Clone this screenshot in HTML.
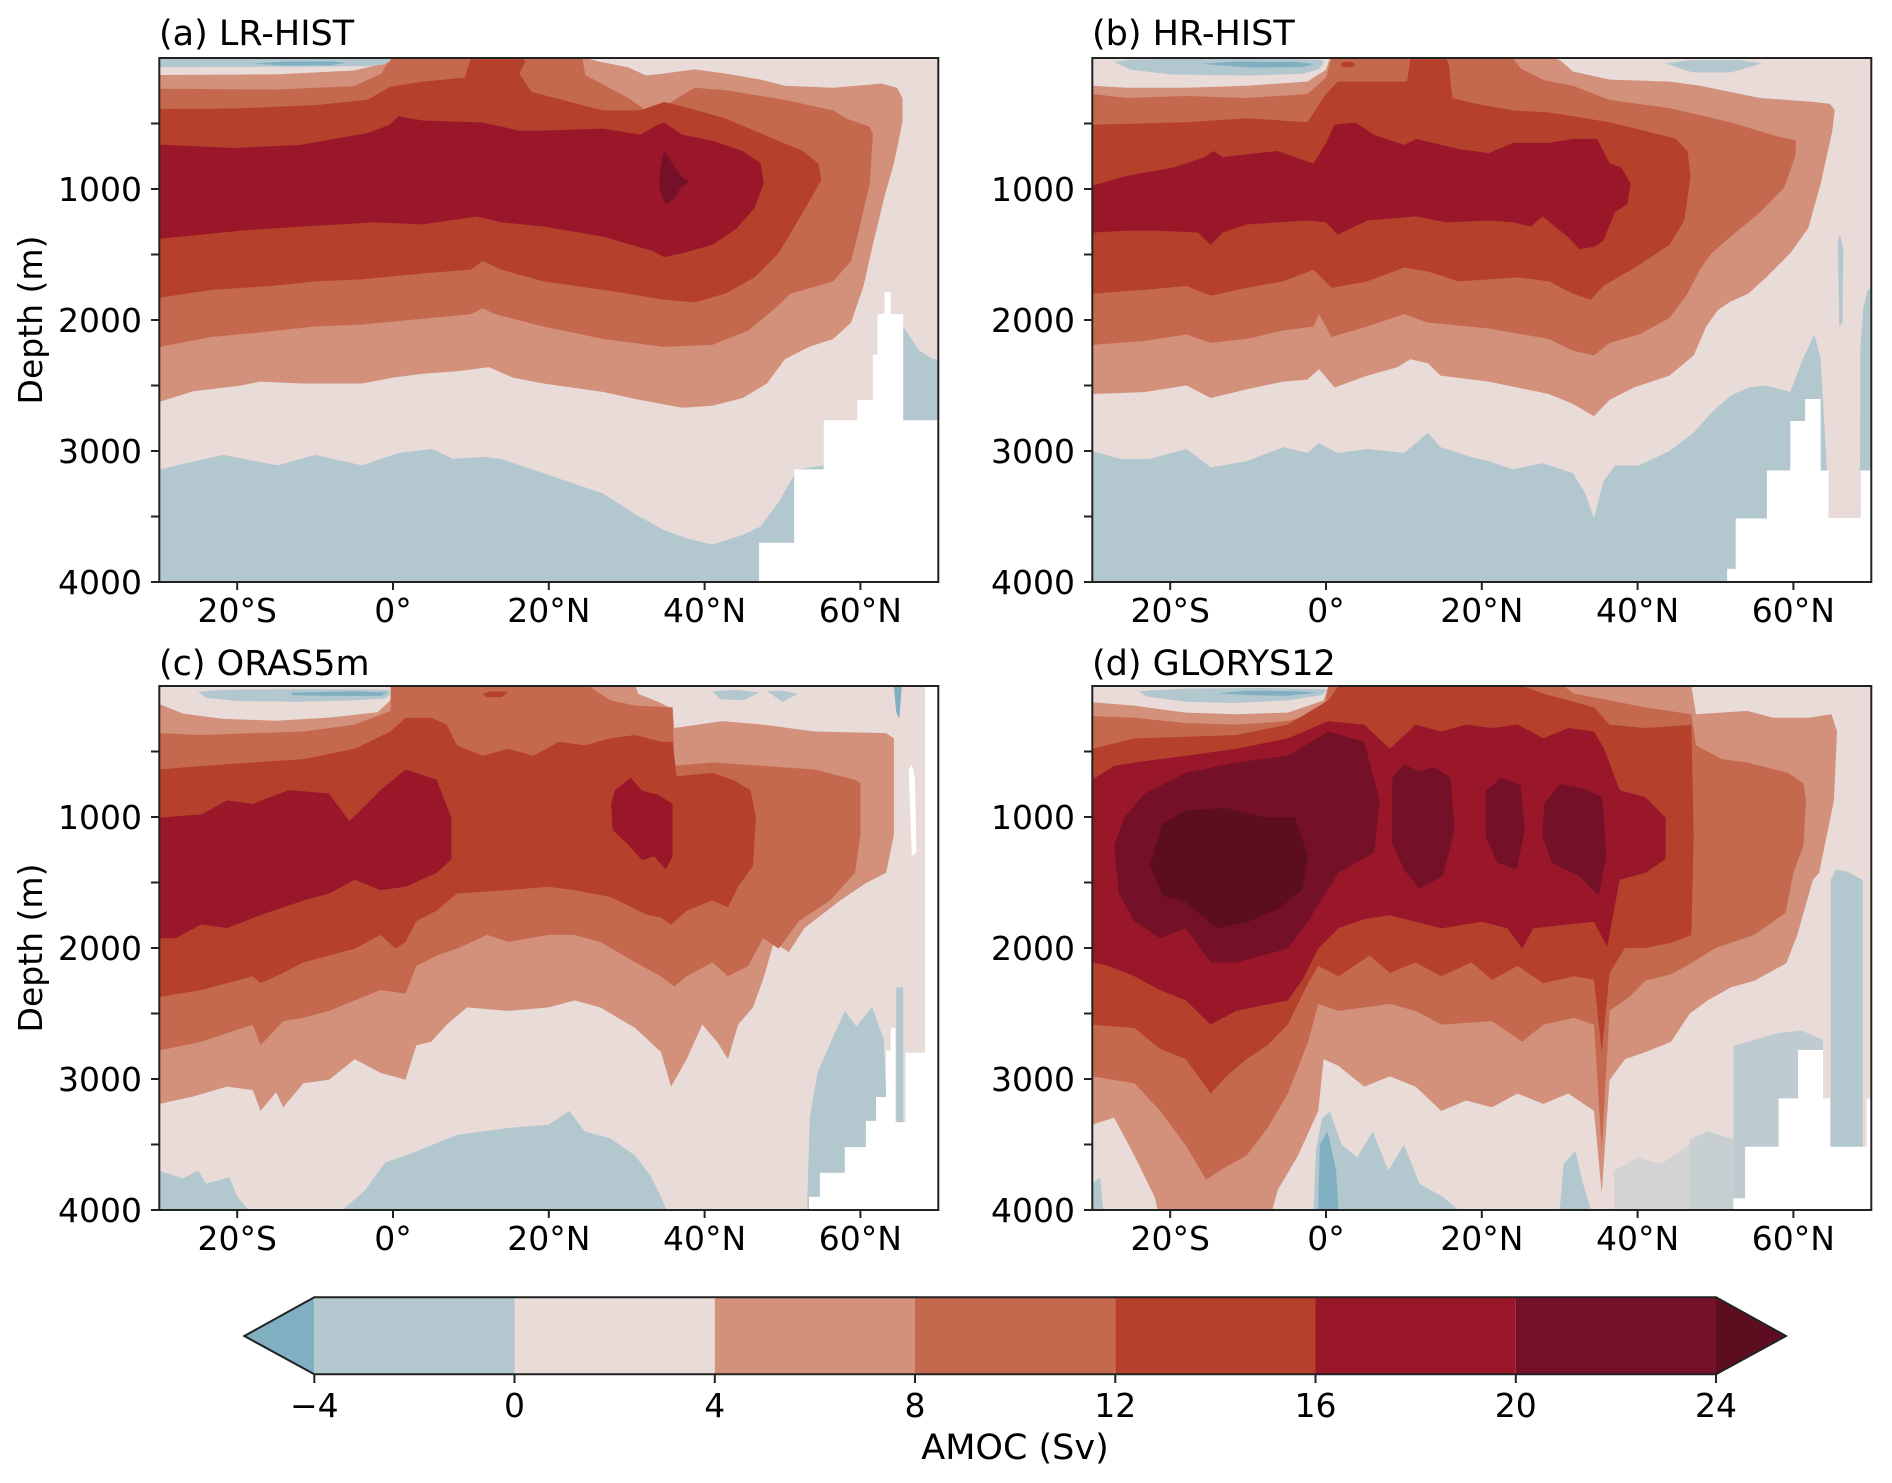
<!DOCTYPE html>
<html><head><meta charset="utf-8"><style>
html,body{margin:0;padding:0;background:#fff;}
svg{display:block;}
text{font-family:"DejaVu Sans","Liberation Sans",sans-serif;fill:#000;}
.tk{font-size:33px;}
.tt{font-size:35px;}
.dl{font-size:33px;}
</style></head><body>
<svg width="1892" height="1483" xmlns="http://www.w3.org/2000/svg">
<defs>
<style>
.b2{fill:#7fafc1}.b1{fill:#b3c7ce}.p0{fill:#e8dbd8}.c4{fill:#d3907a}.c8{fill:#c5694e}.c12{fill:#b5402c}.c16{fill:#9a1729}.c20{fill:#741027}.c24{fill:#5c0e20}.wh{fill:#fff}
</style>
</defs>
<rect x="0" y="0" width="1892" height="1483" fill="#fff"/>

<!-- Panel (a) -->
<svg x="159.3" y="58" width="779" height="524" viewBox="-30 0 100 4000" preserveAspectRatio="none">
<rect x="-30" y="0" width="100" height="4000" class="p0"/>
<polygon class="b1" points="-30,3140 -21.8,3030 -14.8,3110 -10,3030 -4,3110 0.7,3015 5,2985 7.7,3060 11.5,3045 13.9,3060 19.3,3170 27,3325 31,3480 34.8,3605 37.9,3670 41,3715 44.9,3640 47.2,3575 49.5,3390 51,3235 52,3140 55.3,3110 55.3,4000 -30,4000"/>
<polygon class="b1" points="64.5,1960 65.5,2050 67.5,2230 69.3,2300 70,2300 70,4000 64.5,4000"/>
<polygon class="c4" points="-30,130 -15,125 -5,95 -1,40 -0.5,0 24.7,0 26.3,25 30.2,72 32.5,134 34.8,118 38.7,87 42.6,118 47.2,165 50.3,212 56.5,227 62.7,196 64.7,227 65.4,305 65.4,490 64.3,805 63.1,1055 61.6,1425 60.4,1740 58.8,2020 56.5,2145 53.4,2205 50.3,2300 48,2485 44.9,2595 41,2655 37.1,2670 31.7,2610 27,2550 19.3,2485 15.4,2440 12.3,2360 8.4,2390 3.8,2410 0,2440 -4,2485 -11.7,2485 -17.1,2470 -19.5,2500 -25.7,2545 -30,2625"/>
<polygon class="c8" points="-30,235 -15,240 -5,215 -1.5,120 -0.3,0 24.3,0 24.7,134 26.3,180 30.2,305 32.5,400 34.8,368 38.7,227 42.6,245 50.3,320 56.5,400 58.1,460 61.2,525 61.6,585 61.2,960 59.6,1365 58.8,1550 56.5,1705 51,1800 48.8,1925 45.6,2080 41,2190 34.8,2205 27,2145 19.3,2050 13.1,1955 11.5,1910 10,1955 3.8,1990 -4,2035 -10,2050 -17.1,2095 -23.3,2130 -30,2205"/>
<polygon class="c12" points="-30,390 -20,385 -10,360 -3.3,320 -0.4,220 3.8,180 9.2,150 10,0 16.6,0 17,25 16.2,118 17.8,260 24,355 27,400 31.7,400 34.8,336 37.1,368 42.6,460 48.8,615 52.6,710 54.6,805 55,930 52.6,1180 49.5,1490 46.4,1675 42.6,1800 38.7,1865 34.8,1845 27,1770 19.3,1705 13.9,1615 11.5,1550 10,1615 3.8,1645 -4,1690 -10,1705 -15.6,1740 -23.3,1770 -30,1830"/>
<polygon class="c16" points="-30,660 -20.5,687 -12,664 -3.3,573 -0.4,510 0.7,445 3.8,477 11.5,492 16.2,554 19.3,554 27,539 31.7,585 33.6,523 34.8,492 37.1,585 41,632 44.9,710 47.2,804 47.6,959 46.4,1146 44.1,1302 41,1427 37.1,1490 34.8,1520 33.3,1473 27,1364 19.3,1286 13.9,1255 10.8,1210 3.8,1270 -2.4,1255 -11.7,1286 -19.5,1318 -30,1380"/>
<polygon class="c20" points="34.8,710 35.8,800 37,900 38,945 37,985 36,1080 35,1120 34.2,1000 34.2,880"/>
<polygon class="b1" points="-30,0 -0.2,0 -0.4,25 -1.2,50 -3,62 -10,66 -20,68 -30,70"/>
<polygon class="b2" points="-18,42 -14,28 -8,26 -6,35 -8,55 -14,58"/>
<polygon class="wh" points="47,4000 47,3700 51.5,3700 51.5,3140 55.3,3140 55.3,2765 59.6,2765 59.6,2610 61.6,2610 61.6,2265 62.2,2265 62.2,1955 63.1,1955 63.1,1785 63.9,1785 63.9,1955 65.5,1955 65.5,2765 70,2765 70,4000"/>
</svg>

<!-- Panel (b) -->
<svg x="1092.3" y="58" width="779" height="524" viewBox="-30 0 100 4000" preserveAspectRatio="none">
<rect x="-30" y="0" width="100" height="4000" class="p0"/>
<polygon class="b1" points="-30,3000 -26.4,3060 -22.6,3060 -17.9,2985 -14.8,3125 -10.2,3078 -5.5,2970 -2.4,3015 -0.9,2940 1.5,3015 5.3,2985 10,3015 13.1,2860 14.7,2970 18.5,3045 20.9,3078 24,3140 27.8,3093 31.7,3170 33.3,3325 34.4,3515 35.6,3235 37.1,3110 40.2,3110 44.1,3000 47.2,2860 49.5,2705 51.9,2580 54.2,2515 56.5,2500 59.6,2550 61.2,2300 62.7,2110 63.5,2300 64.3,3140 64.7,4000 -30,4000"/>
<polygon class="b1" points="68.6,2200 69,1900 69.5,1780 70,1750 70,4000 68.5,4000"/>
<polygon class="b1" points="65.7,1395 66,1350 66.4,1450 66.3,2020 65.9,2050"/>
<polygon class="c4" points="-30,212 -25.6,227 -17.9,227 -10.2,212 -2.4,180 0,90 0.5,0 29.4,0 30.2,25 31.7,103 36.4,165 44.1,180 48,212 55.7,305 62.7,336 64.7,350 65.3,400 65,555 63.5,960 61.9,1300 59.6,1490 56.5,1675 54.2,1800 51.9,1860 50.3,1925 48.8,2050 47.2,2270 44.1,2425 39.5,2515 36.4,2610 34.4,2735 31.7,2640 28.6,2565 20.9,2470 14.7,2425 13.1,2330 10.8,2300 9.2,2360 5.3,2425 1.1,2515 -0.9,2375 -2.4,2455 -5.5,2470 -10.2,2530 -14.8,2595 -17.9,2500 -23.3,2550 -30,2565"/>
<polygon class="c8" points="-30,275 -25.6,305 -17.9,290 -10.2,305 -2.4,275 0,150 0.7,0 24,0 25,80 28,170 31.7,212 36.4,320 44.1,383 51.9,490 58,600 60.3,630 60.3,740 58.8,990 55.7,1180 52.6,1330 49.5,1490 48,1615 46.4,1800 44.1,1985 40.2,2110 36.4,2175 34.4,2270 31.7,2235 28.6,2145 20.9,2065 13.1,2020 10,1955 5.3,2050 0.7,2130 -0.9,1955 -1.6,2050 -5.5,2080 -10.2,2145 -14.8,2175 -17.9,2110 -23.3,2160 -30,2190"/>
<polygon class="c12" points="-30,510 -17.9,490 -10.2,460 -2.4,490 0,275 1.5,180 5.3,180 10.4,180 10.8,25 10.8,0 15.4,0 15.8,56 16.2,305 19.3,350 24,400 28.6,415 36.4,490 44.9,615 46.4,710 46.8,900 46,1240 44.1,1425 40.2,1580 35.6,1740 34,1845 31.7,1800 28.6,1705 24.7,1675 17,1705 13.1,1630 10,1600 5.3,1705 0.7,1755 -1.6,1615 -5.5,1705 -10.2,1755 -14.8,1815 -17.9,1740 -23.3,1770 -30,1800"/>
<polygon class="c16" points="-30,975 -25.6,900 -19.5,835 -15.6,757 -14.4,710 -13.3,757 -6.3,710 -1.6,805 0,650 1.1,508 3.8,492 6.1,585 10,663 11.6,617 17,695 20.9,726 24,648 28.6,648 31.7,617 34.8,617 36.4,804 37.9,835 39.1,960 38.7,1115 37.1,1177 35.6,1395 34.4,1442 32.5,1458 31,1364 27.8,1209 26.3,1286 24,1255 20.9,1240 15.4,1255 11.6,1209 5.3,1240 1.5,1349 0,1255 -2.4,1240 -10.2,1271 -13.3,1333 -14.8,1427 -16.4,1333 -21.8,1318 -25.6,1318 -30,1333"/>
<ellipse class="c12" cx="2.8" cy="50" rx="0.9" ry="22"/>
<polygon class="b1" points="-27.2,30 -25,12 -20,8 -5,8 -0.5,15 -0.3,40 -1,90 -3,120 -10,135 -20,125 -25,90"/>
<polygon class="b2" points="-16,45 -12,28 -4,30 -1.6,45 -3,70 -10,72"/>
<polygon class="b1" points="43.5,40 47,15 53,15 56,40 52,110 47,110"/>
<polygon class="wh" points="51.5,4000 51.5,3900 52.6,3900 52.6,3515 56.6,3515 56.6,3149 59.6,3149 59.6,2771 61.5,2771 61.5,2603 63.5,2603 63.5,3149 64.5,3149 64.5,3511 68.6,3511 68.6,3149 70,3149 70,4000"/>
</svg>

<!-- Panel (c) -->
<svg x="159.3" y="686" width="779" height="524" viewBox="-30 0 100 4000" preserveAspectRatio="none">
<rect x="-30" y="0" width="100" height="4000" class="p0"/>
<polygon class="b1" points="-6.5,4000 -3.6,3850 -1,3637 1.6,3585 8.2,3427 14.8,3374 20,3348 22.6,3243 24.6,3400 27.9,3453 31.1,3585 33.1,3743 34.4,3900 35.1,4000"/>
<polygon class="b1" points="-30,3700 -27,3760 -25,3700 -24,3800 -21,3750 -20,3900 -18.5,4000 -30,4000"/>
<polygon class="b1" points="53.2,3900 53.5,3300 54.5,2950 56.5,2680 58,2480 59.5,2600 61.5,2450 63,2700 63.3,3137 63.3,4000 53.2,4000"/>
<polygon class="b1" points="64.6,2300 65.5,2300 65.5,3330 64.6,3330"/>
<polygon class="c4" points="-30,137 -27,210 -22,250 -15,265 -8,240 -2,200 -0.5,120 0.5,0 31.1,0 31.5,60 34,120 35.9,176 36.1,321 42.3,268 47.5,295 54.1,347 63.3,360 64.3,400 64.3,1137 63.3,1427 60.7,1505 57.4,1637 52.8,1848 50.8,2032 48.9,1953 47.5,2242 46.2,2453 44.3,2585 43,2848 41.6,2716 39.7,2585 37.7,2848 35.7,3058 34.4,2795 31.1,2611 26.6,2453 23.3,2400 20,2453 14.8,2480 9.5,2453 6.9,2585 4.9,2716 3,2742 1.6,3006 -1.6,2953 -4.9,2848 -8.2,3006 -11.5,3032 -14.1,3216 -15,3100 -17,3243 -18,3085 -21.3,3058 -25.9,3137 -30,3190"/>
<polygon class="c8" points="-30,360 -24.6,374 -18,360 -11.5,347 -4.9,295 -0.3,190 -0.3,0 25.2,0 25.9,32 27.9,110 31.1,150 35.9,163 36.1,610 41,584 47.5,610 54.1,637 59.3,716 60,742 60,1137 59.3,1427 56.1,1637 52.1,1795 49.5,2005 47.5,1926 45.6,2137 43,2216 41,2110 37.7,2216 36.1,2295 34.4,2216 31.1,2110 26.6,1953 23.3,1900 20,1900 14.8,1953 12.1,1900 8.2,2005 5.6,2058 3,2137 1.6,2348 -1.6,2321 -4.9,2400 -8.2,2480 -11.5,2532 -14.1,2558 -17,2742 -18,2585 -24.6,2716 -30,2782"/>
<polygon class="c12" points="-30,637 -24.6,610 -18,584 -11.5,558 -4.9,479 -0.3,347 1.6,242 4.9,242 6.9,295 8.2,453 11.5,532 14.8,479 18,532 21.3,426 24.6,453 27.9,400 31.1,374 34.4,426 35.9,426 36.4,690 41,663 43.6,716 45.9,795 46.6,1005 46.2,1374 44.3,1532 43,1690 41,1637 37.7,1716 35.7,1821 34.4,1769 32.5,1742 27.9,1611 23.3,1558 20,1532 14.8,1558 8.2,1584 5.6,1716 3,1795 1.6,1953 0.3,2005 -1.6,1900 -4.9,2005 -11.5,2110 -14.1,2190 -17,2269 -18,2216 -24.6,2321 -30,2374"/>
<polygon class="c12" points="11.5,60 12.5,40 14.8,45 14,85 12,85"/>
<polygon class="c16" points="-30,1005 -24.6,980 -21.3,874 -18,900 -13.4,795 -8.2,821 -5.6,1032 -1.6,795 1.6,637 5.6,716 7.5,1005 7.5,1321 5.6,1427 1.6,1532 -1.6,1558 -4.9,1479 -8.2,1584 -11.5,1637 -16.7,1742 -21.3,1848 -24.6,1821 -27.9,1926 -30,1926"/>
<polygon class="c16" points="28.5,795 30.5,700 32,800 34,830 35.9,900 35.9,1300 35,1400 33.5,1300 32,1330 30,1200 28.2,1100 28,900"/>
<polygon class="b1" points="-25,45 -22,30 -15,25 -5,25 -0.5,30 -0.3,60 -1,95 -5,110 -12,120 -20,115 -24,90"/>
<polygon class="b2" points="-13,50 -5,40 -0.8,50 -1.5,75 -8,75 -13,70"/>
<polygon class="b1" points="41,40 44,30 47,50 45,110 42,100"/>
<polygon class="b1" points="48,40 50,35 52,60 50,120"/>
<polygon class="b2" points="64.3,0 65.3,0 65,250 64.6,200"/>
<polygon class="wh" points="53.4,4000 53.4,3900 54.8,3900 54.8,3716 58,3716 58,3520 60.7,3520 60.7,3320 62,3320 62,3137 63.3,3137 63.3,2782 63.9,2782 63.9,2610 64.5,2610 64.5,3330 65.8,3330 65.8,2800 68.3,2800 68.3,0 70,0 70,4000"/>
<polygon class="wh" points="66.2,640 66.6,600 67,700 67.2,1270 66.6,1300"/>
</svg>

<!-- Panel (d) -->
<svg x="1092.3" y="686" width="779" height="524" viewBox="-30 0 100 4000" preserveAspectRatio="none">
<rect x="-30" y="0" width="100" height="4000" class="p0"/>
<polygon class="b1" points="-1.6,4000 -1.3,3550 -0.5,3300 0.5,3250 2,3500 4,3600 6,3400 8,3700 10,3500 12,3800 15,3900 17,4000"/>
<polygon class="b2" points="-1,4000 -0.8,3500 0.2,3400 1.3,3700 1.6,4000"/>
<polygon class="b1" points="30,4000 30.5,3650 32,3550 33,3800 34,4000"/>
<polygon class="b1" opacity="0.4" points="37,4000 37,3700 40,3600 43,3650 46.7,3500 46.7,4000"/>
<polygon class="b1" opacity="0.6" points="46.7,4000 46.7,3460 49,3400 52.3,3460 52.3,4000"/>
<polygon class="b1" opacity="0.8" points="52.3,4000 52.3,2750 55,2700 58,2650 61,2630 63.8,2700 63.8,4000"/>
<polygon class="b1" points="64.8,1480 65.5,1400 67,1420 68.9,1480 68.9,3520 64.8,3520"/>
<polygon class="b1" points="-30,3800 -29,3750 -28.6,4000 -30,4000"/>
<polygon class="c4" points="-30,124 -24.6,150 -18,203 -11.5,216 -4.9,203 -0.3,110 0.3,0 46.9,0 47.5,216 54.1,190 57.4,242 62,242 64.9,216 65.6,347 65.2,874 63.3,1427 62.5,1480 60.5,1900 59.1,2115 55,2250 52,2300 49,2400 46.7,2500 44.3,2716 41,2795 38.4,2848 36.4,3008 35.4,3870 34.4,3243 31.1,3111 27.9,3190 24.6,3111 21.3,3216 18,3164 14.8,3243 11.5,3058 8.2,2980 4.9,3058 1.6,2900 -0.3,2848 -1,3243 -3.6,3585 -6.2,3848 -6.9,4000 -21.6,4000 -22,3900 -24.6,3585 -27.2,3295 -30,3348"/>
<polygon class="c8" points="-30,229 -24.6,242 -18,282 -11.5,295 -4.9,268 -0.3,190 0.3,0 30.5,0 31.8,58 36.4,110 41,163 46.9,216 47.5,453 50.8,558 54.1,584 59.3,663 61.3,742 61.6,874 61.3,1216 60,1427 59,1730 55,1900 50,2000 46.9,2115 44.3,2200 41,2250 39,2370 36.4,2480 35.4,3540 34.4,2585 31.8,2532 27.9,2585 25.2,2716 21.3,2558 14.8,2585 11.5,2480 8.2,2427 1.6,2480 -1,2427 -2.3,2716 -4.9,3111 -7.5,3374 -10.2,3585 -13.4,3690 -15.4,3769 -18,3506 -21.3,3243 -24.6,3032 -30,2980"/>
<polygon class="c12" points="-30,479 -24.6,400 -18,387 -11.5,374 -4.9,295 0.3,110 1.6,0 25.2,0 27.9,58 31.1,110 34.4,163 36.4,295 41,321 46.9,295 47.2,1137 46.9,1900 44.3,1960 41,2000 38.4,2000 36.4,2190 35.4,2800 34.4,2242 31.8,2216 27.9,2269 24.6,2137 21.3,2242 18.7,2110 14.8,2216 11.5,2110 8.2,2190 5.6,2058 1.6,2216 -1,2137 -2.3,2269 -4.9,2585 -7.5,2742 -10.2,2848 -12.8,2980 -14.8,3111 -18,2848 -21.3,2769 -24.6,2611 -30,2585"/>
<polygon class="c16" points="-30,716 -27.2,610 -24.6,584 -18,532 -11.5,479 -4.9,400 0.3,268 4.9,295 8.2,479 11.5,295 14.8,347 18,295 21.3,321 24.6,295 27.9,400 31.1,321 34.4,347 35.7,479 37.7,795 41,848 43.6,1005 43.6,1321 41,1427 37.7,1479 36.1,1990 34.4,1800 31.1,1820 26.6,1850 25.2,2005 23.3,1850 20,1800 14.8,1850 11.5,1800 8.2,1750 4.9,1780 1.6,1848 -1,2005 -3,2242 -4.9,2400 -11.5,2479 -14.8,2585 -18,2400 -21.3,2321 -24.6,2216 -27.9,2137 -30,2110"/>
<polygon class="c20" points="-27.2,1216 -25.9,1005 -23.3,821 -18,663 -11.5,584 -4.9,532 0.3,347 4.9,426 6.9,874 6.2,1269 1.6,1427 -2.3,1795 -4.9,2005 -11.5,2110 -14.8,2110 -18,1848 -21.3,1926 -24.6,1795 -26.6,1584"/>
<polygon class="c20" points="8.5,700 10,600 12,650 14,620 16,700 16.5,1100 15,1450 12,1550 10,1400 8.5,1200"/>
<polygon class="c20" points="20.5,800 22.5,700 25,760 25.5,1100 24.5,1400 22,1350 20.5,1150"/>
<polygon class="c20" points="28,900 30,750 33,780 35.5,850 36,1300 35,1600 32.5,1450 29,1350 27.8,1150"/>
<polygon class="c24" points="-22.6,1370 -21,1050 -18,950 -13,930 -8,1000 -4,1000 -2.3,1300 -3,1550 -6,1700 -10,1800 -14,1850 -18,1650 -21,1600"/>
<polygon class="b1" points="-24,40 -18,20 -8,15 0.2,25 -0.5,70 -5,110 -12,130 -18,120 -23,80"/>
<polygon class="b2" points="-14,55 -10,35 -4,40 -1,50 -5,75 -10,70"/>
<polygon class="wh" points="52.3,4000 52.3,3910 53.8,3910 53.8,3517 58.1,3517 58.1,3148 60.6,3148 60.6,2779 63.8,2779 63.8,3148 64.7,3148 64.7,3517 69.4,3517 69.4,3148 70,3148 70,4000"/>
</svg>

<!-- Spines -->
<g fill="none" stroke="#222" stroke-width="2">
<rect x="159.3" y="58" width="779" height="524"/>
<rect x="1092.3" y="58" width="779" height="524"/>
<rect x="159.3" y="686" width="779" height="524"/>
<rect x="1092.3" y="686" width="779" height="524"/>
</g>

<!-- Ticks -->
<g stroke="#222" stroke-width="2">
<path d="M151,123.5H159.3M151,189H159.3M151,254.5H159.3M151,320H159.3M151,385.5H159.3M151,451H159.3M151,516.5H159.3M151,582H159.3"/>
<path d="M1084,123.5H1092.3M1084,189H1092.3M1084,254.5H1092.3M1084,320H1092.3M1084,385.5H1092.3M1084,451H1092.3M1084,516.5H1092.3M1084,582H1092.3"/>
<path d="M151,751.5H159.3M151,817H159.3M151,882.5H159.3M151,948H159.3M151,1013.5H159.3M151,1079H159.3M151,1144.5H159.3M151,1210H159.3"/>
<path d="M1084,751.5H1092.3M1084,817H1092.3M1084,882.5H1092.3M1084,948H1092.3M1084,1013.5H1092.3M1084,1079H1092.3M1084,1144.5H1092.3M1084,1210H1092.3"/>
<path d="M237.2,582V590M393,582V590M548.8,582V590M704.6,582V590M860.4,582V590"/>
<path d="M1170.2,582V590M1326,582V590M1481.8,582V590M1637.6,582V590M1793.4,582V590"/>
<path d="M237.2,1210V1218M393,1210V1218M548.8,1210V1218M704.6,1210V1218M860.4,1210V1218"/>
<path d="M1170.2,1210V1218M1326,1210V1218M1481.8,1210V1218M1637.6,1210V1218M1793.4,1210V1218"/>
</g>

<!-- Tick labels -->
<g class="tk" text-anchor="end">
<text x="142" y="201">1000</text><text x="142" y="332">2000</text><text x="142" y="463">3000</text><text x="142" y="594">4000</text>
<text x="1075" y="201">1000</text><text x="1075" y="332">2000</text><text x="1075" y="463">3000</text><text x="1075" y="594">4000</text>
<text x="142" y="829">1000</text><text x="142" y="960">2000</text><text x="142" y="1091">3000</text><text x="142" y="1222">4000</text>
<text x="1075" y="829">1000</text><text x="1075" y="960">2000</text><text x="1075" y="1091">3000</text><text x="1075" y="1222">4000</text>
</g>
<g class="tk" text-anchor="middle">
<text x="237.2" y="622">20°S</text><text x="393" y="622">0°</text><text x="548.8" y="622">20°N</text><text x="704.6" y="622">40°N</text><text x="860.4" y="622">60°N</text>
<text x="1170.2" y="622">20°S</text><text x="1326" y="622">0°</text><text x="1481.8" y="622">20°N</text><text x="1637.6" y="622">40°N</text><text x="1793.4" y="622">60°N</text>
<text x="237.2" y="1250">20°S</text><text x="393" y="1250">0°</text><text x="548.8" y="1250">20°N</text><text x="704.6" y="1250">40°N</text><text x="860.4" y="1250">60°N</text>
<text x="1170.2" y="1250">20°S</text><text x="1326" y="1250">0°</text><text x="1481.8" y="1250">20°N</text><text x="1637.6" y="1250">40°N</text><text x="1793.4" y="1250">60°N</text>
</g>

<!-- Titles -->
<g class="tt">
<text x="159" y="45">(a) LR-HIST</text>
<text x="1092" y="45">(b) HR-HIST</text>
<text x="159" y="675">(c) ORAS5m</text>
<text x="1092" y="675">(d) GLORYS12</text>
</g>
<text class="dl" text-anchor="middle" transform="translate(42,320) rotate(-90)">Depth (m)</text>
<text class="dl" text-anchor="middle" transform="translate(42,948) rotate(-90)">Depth (m)</text>

<!-- Colorbar -->
<polygon points="244.3,1336 314.3,1297.3 314.3,1374.3" fill="#7fafc1"/>
<rect x="314.3" y="1297.3" width="200.3" height="77" fill="#b3c7ce"/>
<rect x="514.5" y="1297.3" width="200.3" height="77" fill="#e8dbd8"/>
<rect x="714.8" y="1297.3" width="200.3" height="77" fill="#d3907a"/>
<rect x="915" y="1297.3" width="200.3" height="77" fill="#c5694e"/>
<rect x="1115.3" y="1297.3" width="200.3" height="77" fill="#b5402c"/>
<rect x="1315.5" y="1297.3" width="200.3" height="77" fill="#9a1729"/>
<rect x="1515.8" y="1297.3" width="200.2" height="77" fill="#741027"/>
<polygon points="1716,1297.3 1786,1336 1716,1374.3" fill="#5c0e20"/>
<path d="M314.3,1297.3L1716,1297.3L1786,1336L1716,1374.3L314.3,1374.3L244.3,1336Z" fill="none" stroke="#222" stroke-width="2"/>
<path d="M314.3,1374.3V1383M514.5,1374.3V1383M714.8,1374.3V1383M915,1374.3V1383M1115.3,1374.3V1383M1315.5,1374.3V1383M1515.8,1374.3V1383M1716,1374.3V1383" stroke="#222" stroke-width="2"/>
<g class="tk" text-anchor="middle">
<text x="314.3" y="1417">−4</text><text x="514.5" y="1417">0</text><text x="714.8" y="1417">4</text><text x="915" y="1417">8</text><text x="1115.3" y="1417">12</text><text x="1315.5" y="1417">16</text><text x="1515.8" y="1417">20</text><text x="1716" y="1417">24</text>
</g>
<text class="tt" x="1015" y="1459" text-anchor="middle">AMOC (Sv)</text>
</svg>
</body></html>
